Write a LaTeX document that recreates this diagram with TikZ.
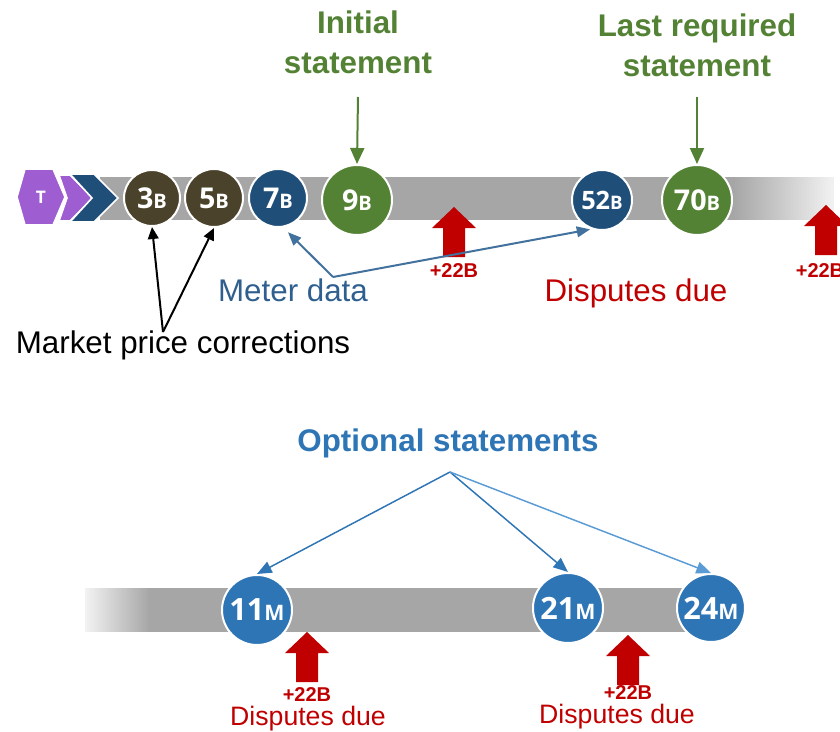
\documentclass[tikz,border=0pt]{standalone}
\usepackage{fontspec}
\setmainfont{Liberation Sans}
\newfontfamily\circfont{Open Sans}
\usetikzlibrary{arrows.meta,calc}
\definecolor{barg}{HTML}{A6A6A6}
\definecolor{barl}{HTML}{F2F2F2}
\definecolor{olivec}{HTML}{4B422B}
\definecolor{navyc}{HTML}{1F4E79}
\definecolor{greenc}{HTML}{548235}
\definecolor{bluec}{HTML}{2E75B6}
\definecolor{lbluec}{HTML}{5B9BD5}
\definecolor{redc}{HTML}{C00000}
\definecolor{purplec}{HTML}{9E5DD0}
\definecolor{meterc}{HTML}{41719C}
\definecolor{metertxt}{HTML}{2F5F8F}
\newcommand\numlab[4]{{\fontsize{#1}{#1}\selectfont #3}{\fontsize{#2}{#2}\selectfont #4}}
\tikzset{
  circ/.style={circle, draw=white, line width=1.5pt, inner sep=0pt, text=white, font=\circfont\bfseries},
  redup/.pic={\fill[redc] (0,0) -- (22,21) -- (11,21) -- (11,50) -- (-11,50) -- (-11,21) -- (-22,21) -- cycle;},
  plus/.style={text=redc, font=\bfseries\fontsize{15}{15}\selectfont, inner sep=0pt},
  dispbig/.style={text=redc, font=\fontsize{23.5}{28}\selectfont, inner sep=0pt},
  dispsmall/.style={text=redc, font=\fontsize{20}{24}\selectfont, inner sep=0pt},
  gtitle/.style={text=greenc, font=\bfseries\fontsize{23.5}{30}\selectfont, align=center, inner sep=0pt},
  garrow/.style={draw=greenc, line width=1.5pt, -{Triangle[length=12pt,width=10.5pt]}},
  karrow/.style={draw=black, line width=1.5pt, -{Triangle[length=9pt,width=8pt]}},
  marrow/.style={draw=meterc, line width=1.5pt, -{Triangle[length=10pt,width=8pt]}},
  oarrow/.style={line width=1.1pt, -{Triangle[length=11pt,width=9pt]}},
}
\begin{document}
\begin{tikzpicture}[x=0.75pt,y=-0.75pt]
\useasboundingbox (0,0) rectangle (840,732);
% top bar
\fill[barg] (100,177) rectangle (734,220);
\foreach \i in {0,...,49}{
  \pgfmathsetmacro\pc{100-2*\i}
  \fill[barg!\pc!barl] ({733+2*\i},177) rectangle ({735.6+2*\i},220);
}
% hexagon and chevrons
\filldraw[fill=purplec, draw=white, line width=1.2pt] (17,197) -- (25,169) -- (53,169) -- (65,197) -- (53,225) -- (25,225) -- cycle;
\node[text=white, font=\circfont\bfseries\fontsize{13}{13}\selectfont] (T) at (41,197) {T};
\filldraw[fill=purplec, draw=white, line width=1.2pt] (59,175) -- (70,175) -- (93,198) -- (70,221) -- (59,221) -- (67,198) -- cycle;
\filldraw[fill=navyc, draw=white, line width=1.2pt] (70,174) -- (94,174) -- (118,198) -- (94,222) -- (70,222) -- (92,198) -- cycle;
% red arrows top
\pic at (454,207) {redup};
\pic at (826,205) {redup};
\node[plus] (p1) at (454,271) {+22B};
\node[plus] (p2) at (820,271) {+22B};
\node[dispbig] (d1) at (636,293) {Disputes due};
% circles top
\node[circ, fill=olivec, minimum size=42pt] (c3) at (152,198) {\numlab{21.5}{15}{3}{B}};
\node[circ, fill=olivec, minimum size=43.5pt] (c5) at (214,198) {\numlab{21.5}{15}{5}{B}};
\node[circ, fill=navyc, minimum size=43.5pt] (c7) at (278,198) {\numlab{21.5}{15}{7}{B}};
\node[circ, fill=greenc, minimum size=52.5pt] (c9) at (357,200) {\numlab{21.5}{15}{9}{B}};
\node[circ, fill=navyc, minimum size=45pt] (c52) at (602,200) {\numlab{19}{14}{52}{B}};
\node[circ, fill=greenc, minimum size=52.5pt] (c70) at (697,200) {\numlab{21.5}{15}{70}{B}};
% titles
\node[gtitle] (t1) at (358,42) {Initial\\statement};
\node[gtitle] (t2) at (697,45) {Last required\\statement};
\coordinate (g1) at (358,97);
\coordinate (g2) at (697,97);
\draw[garrow] (g1) -- (c9.north);
\draw[garrow] (g2) -- (c70.north);
% market price corrections
\node[font=\fontsize{23.5}{28}\selectfont, inner sep=0pt] (mpc) at (183,345) {Market price corrections};
\coordinate (ka) at (163,332);
\draw[karrow] (ka) -- (c3.south);
\draw[karrow] (ka) -- (c5.south);
% meter data
\node[text=metertxt, font=\fontsize{23.5}{28}\selectfont, inner sep=0pt] (md) at (293,290) {Meter data};
\coordinate (ma) at (333,277);
\draw[marrow, shorten >=5pt] (ma) -- (c7.-80);
\draw[marrow, shorten >=1pt] (ma) -- (c52.-110);
% bottom bar
\foreach \i in {0,...,32}{
  \pgfmathsetmacro\pc{100*\i/32}
  \fill[barg!\pc!barl] ({85+2*\i},588) rectangle ({87.6+2*\i},632);
}
\fill[barg] (150,588) rectangle (700,632);
% bottom red arrows
\pic at (307,632) {redup};
\pic at (628,635) {redup};
\node[plus] (p3) at (307,695) {+22B};
\node[plus] (p4) at (628,693) {+22B};
\node[dispsmall] (d2) at (308,719) {Disputes due};
\node[dispsmall] (d3) at (617,717) {Disputes due};
% bottom circles
\node[circ, fill=bluec, minimum size=52.5pt] (m11) at (257,610) {\numlab{23}{16}{11}{M}};
\node[circ, fill=bluec, minimum size=52.5pt] (m21) at (568,608) {\numlab{23}{16}{21}{M}};
\node[circ, fill=bluec, minimum size=51pt] (m24) at (711,608) {\numlab{23}{16}{24}{M}};
% optional statements
\node[text=bluec, font=\bfseries\fontsize{23.5}{28}\selectfont, inner sep=0pt] (os) at (448,443) {Optional statements};
\coordinate (oa) at (450,472);
\draw[oarrow, draw=bluec, fill=bluec] (oa) -- (m11.north);
\draw[oarrow, draw=bluec, fill=bluec] (oa) -- (m21.north);
\draw[oarrow, draw=lbluec, fill=lbluec] (oa) -- (m24.north);
\end{tikzpicture}
\end{document}
